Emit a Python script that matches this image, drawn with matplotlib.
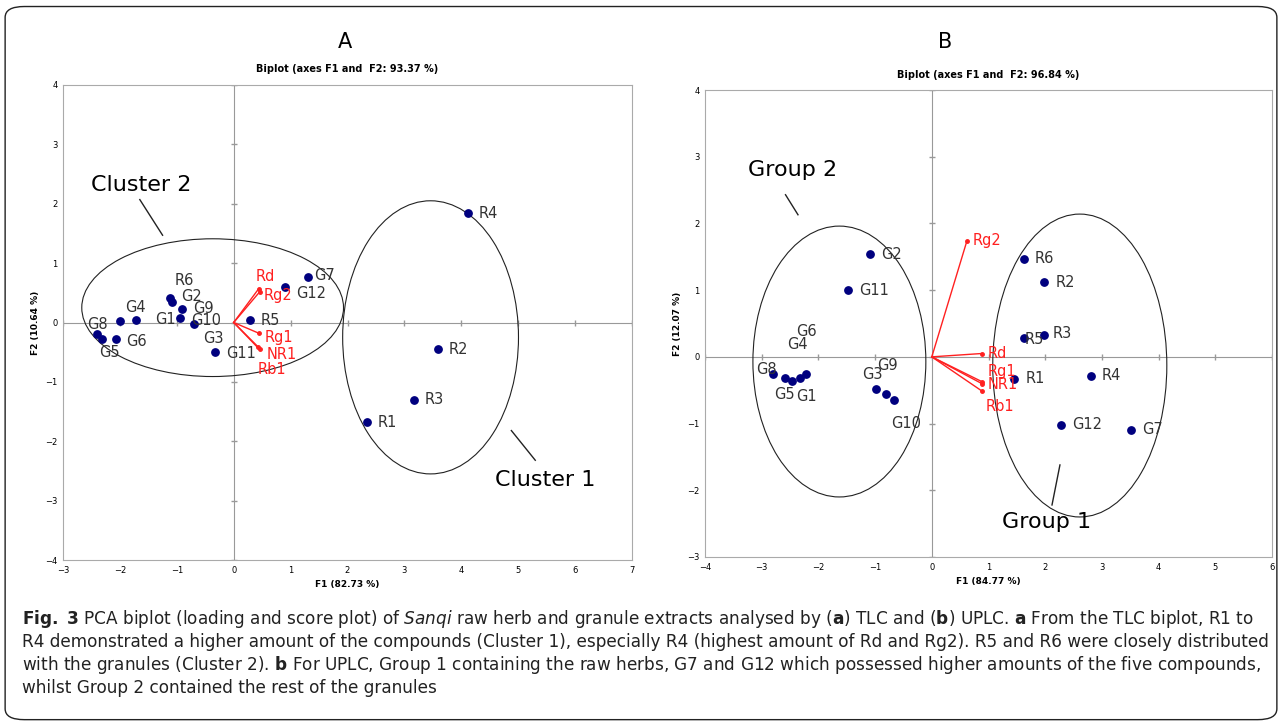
import matplotlib
matplotlib.use("Agg")
import matplotlib.pyplot as plt
from matplotlib.patches import Ellipse, FancyBboxPatch

# ---- panel A (TLC) ----
a_labels = ["R1", "R2", "R3", "R4", "R5", "R6", "G1", "G2", "G3", "G4", "G5", "G6",
            "G7", "G8", "G9", "G10", "G11", "G12"]
a_x = [2.34, 3.59, 3.16, 4.11, 0.28, -1.12, -1.72, -1.09, -0.70, -1.99, -2.32, -2.06,
       1.30, -2.41, -0.90, -0.95, -0.33, 0.91]
a_y = [-1.68, -0.45, -1.30, 1.84, 0.05, 0.42, 0.05, 0.34, -0.03, 0.02, -0.27, -0.27,
       0.76, -0.19, 0.22, 0.08, -0.50, 0.59]
a_load = ["Rd", "Rg2", "Rg1", "NR1", "Rb1"]
a_lx = [0.44, 0.46, 0.44, 0.46, 0.42]
a_ly = [0.57, 0.52, -0.18, -0.44, -0.42]

# ---- panel B (UPLC) ----
b_labels = ["G2", "G11", "G8", "G5", "G1", "G4", "G6", "G3", "G9", "G10",
            "R6", "R2", "R5", "R3", "R1", "R4", "G12", "G7"]
b_x = [-1.09, -1.48, -2.80, -2.59, -2.47, -2.33, -2.22, -0.99, -0.81, -0.67,
       1.62, 1.98, 1.62, 1.98, 1.45, 2.80, 2.28, 3.51]
b_y = [1.54, 1.00, -0.25, -0.31, -0.36, -0.31, -0.25, -0.48, -0.55, -0.65,
       1.47, 1.12, 0.28, 0.33, -0.33, -0.28, -1.02, -1.09]
b_load = ["Rg2", "Rd", "Rg1", "NR1", "Rb1"]
b_lx = [0.62, 0.88, 0.88, 0.88, 0.88]
b_ly = [1.74, 0.05, -0.37, -0.40, -0.51]

NAVY = "#00007f"
RED = "#ff2020"
W, H = 1282, 724
fig = plt.figure(figsize=(W / 100, H / 100), dpi=100)

border = FancyBboxPatch((0.004, 0.006), 0.992, 0.985, boxstyle="round,pad=0,rounding_size=0.015",
                        transform=fig.transFigure, fill=False, ec="#222", lw=1.0)
fig.patches.append(border)


def px_axes(x0, y0, x1, y1):
    return fig.add_axes([x0 / W, 1 - y1 / H, (x1 - x0) / W, (y1 - y0) / H])


def panel(ax, xr, yr, lab, px_, py_, load, lx, ly, title, xlab, ylab, offs, loffs):
    ax.set_xlim(*xr); ax.set_ylim(*yr)
    for s in ax.spines.values():
        s.set_color("#aaa"); s.set_linewidth(0.8)
    ax.set_xticks(range(xr[0], xr[1] + 1)); ax.set_yticks(range(yr[0], yr[1] + 1))
    ax.tick_params(labelsize=6, length=0, pad=4)
    ax.axhline(0, color="#999", lw=0.8, zorder=0)
    ax.axvline(0, color="#999", lw=0.8, zorder=0)
    ax.plot(range(xr[0], xr[1] + 1), [0] * (xr[1] - xr[0] + 1), "|", color="#999", ms=5, zorder=0)
    ax.plot([0] * (yr[1] - yr[0] + 1), range(yr[0], yr[1] + 1), "_", color="#999", ms=5, zorder=0)
    ax.scatter(px_, py_, s=28, color=NAVY, zorder=3)
    for l, x, y in zip(lab, px_, py_):
        dx, dy = offs.get(l, (8, 0))
        ax.annotate(l, (x, y), xytext=(dx, dy), textcoords="offset points",
                    fontsize=10.5, color="#333", va="center")
    for l, x, y in zip(load, lx, ly):
        ax.plot([0, x], [0, y], color=RED, lw=1.0, zorder=2)
        ax.plot(x, y, "o", color=RED, ms=2.5, zorder=2)
        dx, dy = loffs.get(l, (4, 0))
        ax.annotate(l, (x, y), xytext=(dx, dy), textcoords="offset points",
                    fontsize=10.5, color=RED, va="center")
    ax.set_title(title, fontsize=7, fontweight="bold", pad=9)
    ax.set_xlabel(xlab, fontsize=6.5, fontweight="bold")
    ax.set_ylabel(ylab, fontsize=6.5, fontweight="bold")


axA = px_axes(63, 85, 632, 560)
offA = {"R6": (3, 12), "G2": (7, 4), "G9": (8, 1), "G10": (8, -2), "G3": (7, -10),
        "G1": (14, 0), "G4": (3, 10), "G8": (-7, 7), "G5": (-2, -10), "G6": (7, -2),
        "G7": (5, 1), "G12": (8, -4), "G11": (8, -1), "R5": (8, -1)}
loffA = {"Rd": (-2, 9), "Rg2": (3, -3), "Rg1": (4, -3), "NR1": (5, -4), "Rb1": (0, -16)}
panel(axA, (-3, 7), (-4, 4), a_labels, a_x, a_y, a_load, a_lx, a_ly,
      "Biplot (axes F1 and  F2: 93.37 %)", "F1 (82.73 %)", "F2 (10.64 %)", offA, loffA)
axA.add_patch(Ellipse((-0.37, 0.25), 4.6, 2.32, fill=False, ec="#222", lw=0.8))
axA.add_patch(Ellipse((3.46, -0.25), 3.09, 4.6, fill=False, ec="#222", lw=0.8))
axA.text(-1.63, 2.31, "Cluster 2", fontsize=16, ha="center", va="center")
axA.plot([-1.65, -1.25], [2.07, 1.47], color="#222", lw=1)
axA.text(5.48, -2.66, "Cluster 1", fontsize=16, ha="center", va="center")
axA.plot([4.88, 5.30], [-1.82, -2.32], color="#222", lw=1)

axB = px_axes(705, 90, 1272, 557)
offB = {"G8": (-12, 3), "G5": (-8, -12), "G1": (3, -11), "G4": (-9, 24), "G6": (-7, 30),
        "G3": (-10, 10), "G9": (-6, 20), "G10": (-2, -17), "R5": (1, -1), "R3": (6, 1)}
loffB = {"Rd": (4, 0), "Rg1": (4, 7), "NR1": (4, -1), "Rb1": (3, -11)}
panel(axB, (-4, 6), (-3, 4), b_labels, b_x, b_y, b_load, b_lx, b_ly,
      "Biplot (axes F1 and  F2: 96.84 %)", "F1 (84.77 %)", "F2 (12.07 %)", offB, loffB)
axB.add_patch(Ellipse((-1.63, -0.07), 3.05, 4.06, fill=False, ec="#222", lw=0.8))
axB.add_patch(Ellipse((2.61, -0.13), 3.07, 4.54, fill=False, ec="#222", lw=0.8))
axB.text(-2.45, 2.80, "Group 2", fontsize=16, ha="center", va="center")
axB.plot([-2.58, -2.36], [2.43, 2.13], color="#222", lw=1)
axB.text(2.03, -2.47, "Group 1", fontsize=16, ha="center", va="center")
axB.plot([2.26, 2.12], [-1.62, -2.22], color="#222", lw=1)

fig.text(345 / W, 1 - 42 / H, "A", fontsize=15, ha="center", va="center")
fig.text(945 / W, 1 - 42 / H, "B", fontsize=15, ha="center", va="center")

cap = [
    r"$\mathbf{Fig.\ 3}$ PCA biplot (loading and score plot) of $\it{Sanqi}$ raw herb and granule extracts analysed by ($\mathbf{a}$) TLC and ($\mathbf{b}$) UPLC. $\mathbf{a}$ From the TLC biplot, R1 to",
    "R4 demonstrated a higher amount of the compounds (Cluster 1), especially R4 (highest amount of Rd and Rg2). R5 and R6 were closely distributed",
    r"with the granules (Cluster 2). $\mathbf{b}$ For UPLC, Group 1 containing the raw herbs, G7 and G12 which possessed higher amounts of the five compounds,",
    "whilst Group 2 contained the rest of the granules",
]
for i, line in enumerate(cap):
    fig.text(22 / W, 1 - (619 + i * 23) / H, line, fontsize=12.2, color="#222", va="center")

fig.savefig("out.png", dpi=100)
